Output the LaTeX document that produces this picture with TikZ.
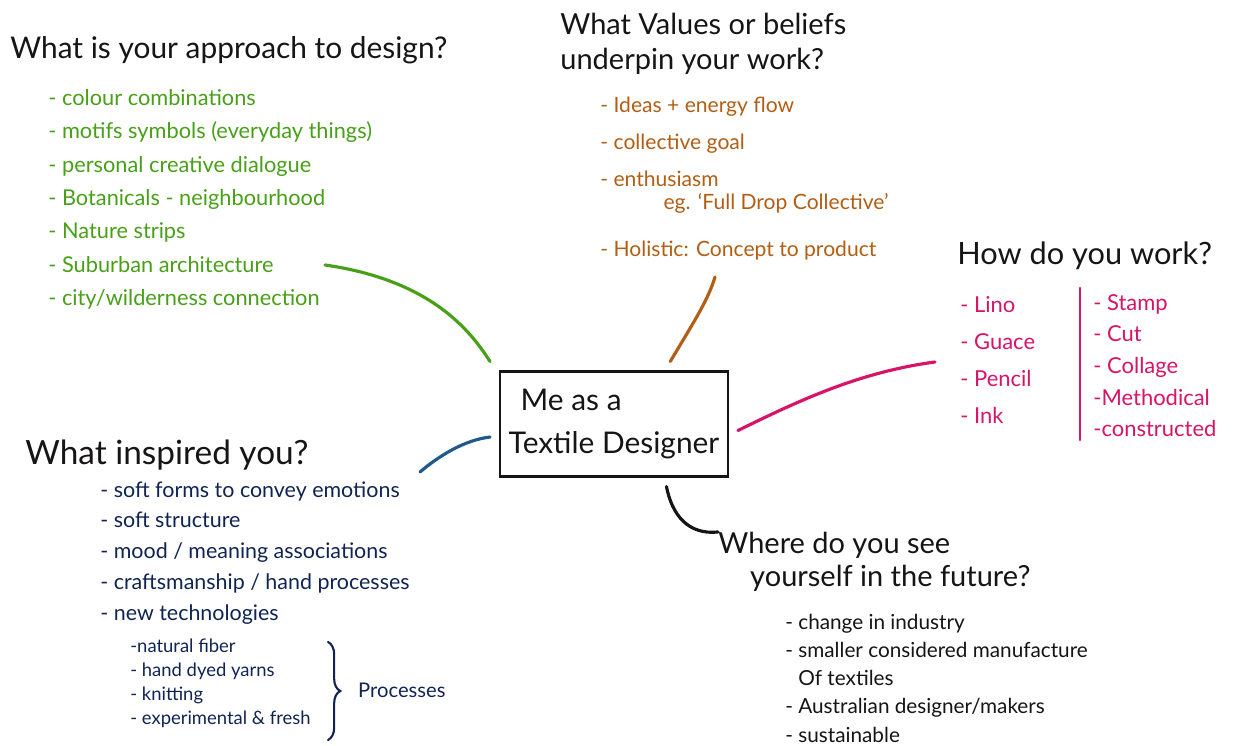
\documentclass[tikz,border=0pt]{standalone}
\usepackage{fontspec}
\setmainfont{Lato}
\usetikzlibrary{decorations.pathreplacing}
\definecolor{ink}{RGB}{22,20,20}
\definecolor{leaf}{RGB}{72,160,24}
\definecolor{rust}{RGB}{178,94,20}
\definecolor{berry}{RGB}{214,20,104}
\definecolor{navy}{RGB}{16,36,84}
\definecolor{sea}{RGB}{32,90,140}
\begin{document}
\begin{tikzpicture}[x=0.02cm,y=-0.02cm,line cap=round,
    head/.style={anchor=west,inner sep=0pt,text=ink,font=\fontsize{17}{20}\selectfont},
    items/.style={anchor=north west,inner sep=0pt,align=left,font=\fontsize{12.4}{19}\selectfont},
    link/.style={line width=1.8pt}]
  \useasboundingbox (0,0) rectangle (1247,746);

  \node[draw=ink,line width=1.3pt,minimum width=4.56cm,minimum height=2.1cm,outer sep=0.2cm,
    align=left,text=ink,font=\fontsize{17}{24}\selectfont] (me) at (614,424)
    {\hspace{0.4em}Me as a\\Textile Designer};

  \node[head] (approach) at (10,50) {What is your approach to design?};
  \node[items,text=leaf] (approachlist) at (48,89)
    {- colour combinations\\- motifs symbols (everyday things)\\- personal creative dialogue\\
     - Botanicals - neighbourhood\\- Nature strips\\- Suburban architecture\\- city/wilderness connection};
  \coordinate (approachend) at (325,265);

  \node[head,anchor=north west,align=left,font=\fontsize{16.5}{20}\selectfont] (values) at (560,13)
    {What Values or beliefs\\underpin your work?};
  \node[items,text=rust,font=\fontsize{12}{21}\selectfont] (valueslist) at (600,97)
    {- Ideas + energy flow\\- collective goal\\- enthusiasm\\[-8pt]
     \hspace{3em}eg. ‘Full Drop Collective’\\[5.5pt]- Holistic: Concept to product};
  \coordinate (valuesend) at (715,277);

  \node[head,font=\fontsize{17.5}{20}\selectfont] (work) at (957,256) {How do you work?};
  \node[items,text=berry,font=\fontsize{12.5}{21}\selectfont] (worktools) at (960,296)
    {- Lino\\- Guace\\- Pencil\\- Ink};
  \node[items,text=berry,font=\fontsize{12.5}{18}\selectfont] (workways) at (1093,294)
    {- Stamp\\- Cut\\- Collage\\-Methodical\\-constructed};
  \coordinate (workend) at (935,362);
  \draw[berry,line width=1.5pt] (1080,288) -- (1080,440);

  \node[head,font=\fontsize{19}{20}\selectfont] (inspired) at (25,455) {What inspired you?};
  \node[items,text=navy,font=\fontsize{12.2}{17.5}\selectfont] (inspiredlist) at (100,481)
    {- soft forms to convey emotions\\- soft structure\\- mood / meaning associations\\
     - craftsmanship / hand processes\\- new technologies};
  \node[items,text=navy,font=\fontsize{10.5}{13.6}\selectfont] (processlist) at (130,639)
    {-natural fiber\\- hand dyed yarns\\- knitting\\- experimental \& fresh};
  \draw[navy,line width=1.2pt,decorate,decoration={brace,amplitude=7pt}] (328,642) -- (328,740);
  \node[anchor=west,text=navy,font=\fontsize{11.5}{14}\selectfont] (processes) at (352,690) {Processes};
  \coordinate (inspiredend) at (420,472);

  \node[head,anchor=north west,align=left,font=\fontsize{16.5}{18.5}\selectfont] (future) at (718,532)
    {Where do you see\\\hspace{1.1em}yourself in the future?};
  \node[items,text=ink,font=\fontsize{11.8}{16}\selectfont] (futurelist) at (785,614)
    {- change in industry\\- smaller considered manufacture\\\phantom{- }Of textiles\\
     - Australian designer/makers\\- sustainable};

  \draw[link,leaf] (approachend) .. controls (430,280) and (470,330) .. (me.north west);
  \draw[link,rust] (me.48) .. controls (695,320) and (708,300) .. (valuesend);
  \draw[link,berry] (me.-3) .. controls (800,400) and (860,372) .. (workend);
  \draw[link,sea] (inspiredend) .. controls (440,455) and (465,440) .. (me.186);
  \draw[link,ink] (me.-50) .. controls (672,515) and (688,535) .. (future.north west);
\end{tikzpicture}
\end{document}
